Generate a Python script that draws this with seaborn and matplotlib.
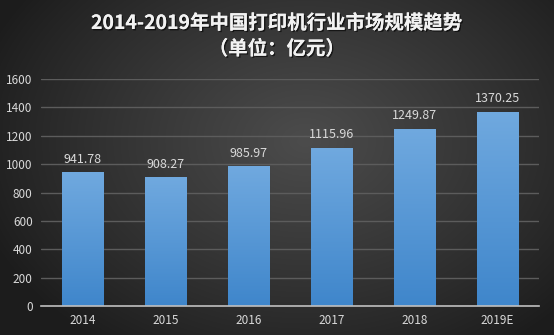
import numpy as np
import pandas as pd
import matplotlib
matplotlib.use("Agg")
import matplotlib.pyplot as plt
import matplotlib.patheffects as pe
from matplotlib.colors import LinearSegmentedColormap
import seaborn as sns

years = ["2014", "2015", "2016", "2017", "2018", "2019E"]
market_size = [941.78, 908.27, 985.97, 1115.96, 1249.87, 1370.25]
y_ticks = [0, 200, 400, 600, 800, 1000, 1200, 1400, 1600]
title_text = "2014-2019年中国打印机行业市场规模趋势\n（单位：亿元）"

sns.set_theme(style="dark")
plt.rcParams["font.family"] = ["Noto Sans CJK SC", "DejaVu Sans"]

W, H = 554, 335
fig = plt.figure(figsize=(W / 100, H / 100), dpi=100)

# radial dark-gray backdrop
bg = fig.add_axes([0, 0, 1, 1], zorder=-10)
yy, xx = np.mgrid[0:H, 0:W]
r = np.sqrt(((xx - W * 0.55) / (W * 0.62)) ** 2 + ((yy - H * 0.42) / (H * 0.75)) ** 2)
shade = np.clip(1 - r, 0, 1)
lo, hi = np.array([0x1c, 0x1c, 0x1c]) / 255, np.array([0x4c, 0x4c, 0x4c]) / 255
img = lo + (hi - lo) * shade[..., None] ** 0.9
bg.imshow(img, aspect="auto", extent=[0, 1, 0, 1], origin="upper")
bg.axis("off")

ax = fig.add_axes([41 / W, 1 - 306 / H, 498 / W, 227 / H])
ax.set_facecolor("none")

df = pd.DataFrame({"year": years, "size": market_size})
sns.barplot(data=df, x="year", y="size", ax=ax, width=0.5,
            color="#5b9bd5", edgecolor="#2a3a4a", linewidth=0.8, zorder=3)

# vertical blue gradient inside each bar
grad = LinearSegmentedColormap.from_list("barblue", ["#3f86cb", "#70a9df"])
ramp = np.linspace(0, 1, 256).reshape(-1, 1)
for bar in ax.patches:
    x0, y0 = bar.get_x(), bar.get_y()
    w, h = bar.get_width(), bar.get_height()
    im = ax.imshow(ramp, cmap=grad, aspect="auto", origin="lower",
                   extent=[x0, x0 + w, y0, y0 + h], zorder=3.5)
    im.set_clip_path(bar)

ax.set_xlim(-0.5, len(years) - 0.5)
ax.set_ylim(0, 1600)
ax.set_yticks(y_ticks)
ax.set_yticklabels([str(t) for t in y_ticks])
ax.grid(axis="y", color="#5c5c5c", linewidth=1.0, zorder=0)
ax.grid(axis="x", visible=False)
for s in ["top", "right", "left"]:
    ax.spines[s].set_visible(False)
ax.spines["bottom"].set_color("#bfbfbf")
ax.spines["bottom"].set_linewidth(1.2)
ax.spines["bottom"].set_zorder(5)
ax.tick_params(axis="both", colors="#d9d9d9", labelsize=8.5, length=0, pad=6)
ax.set_xlabel("")
ax.set_ylabel("")

for i, v in enumerate(market_size):
    ax.text(i, v + 45, f"{v:.2f}", ha="center", va="bottom",
            color="#d9d9d9", fontsize=9)

fig.text(0.5, 1 - 36 / H, title_text, ha="center", va="center",
         color="#f2f2f2", fontsize=14, fontweight="bold", linespacing=1.45,
         path_effects=[pe.withSimplePatchShadow(offset=(1, -1), shadow_rgbFace="black", alpha=0.6), pe.Normal()])

fig.savefig("out.png", dpi=100)
